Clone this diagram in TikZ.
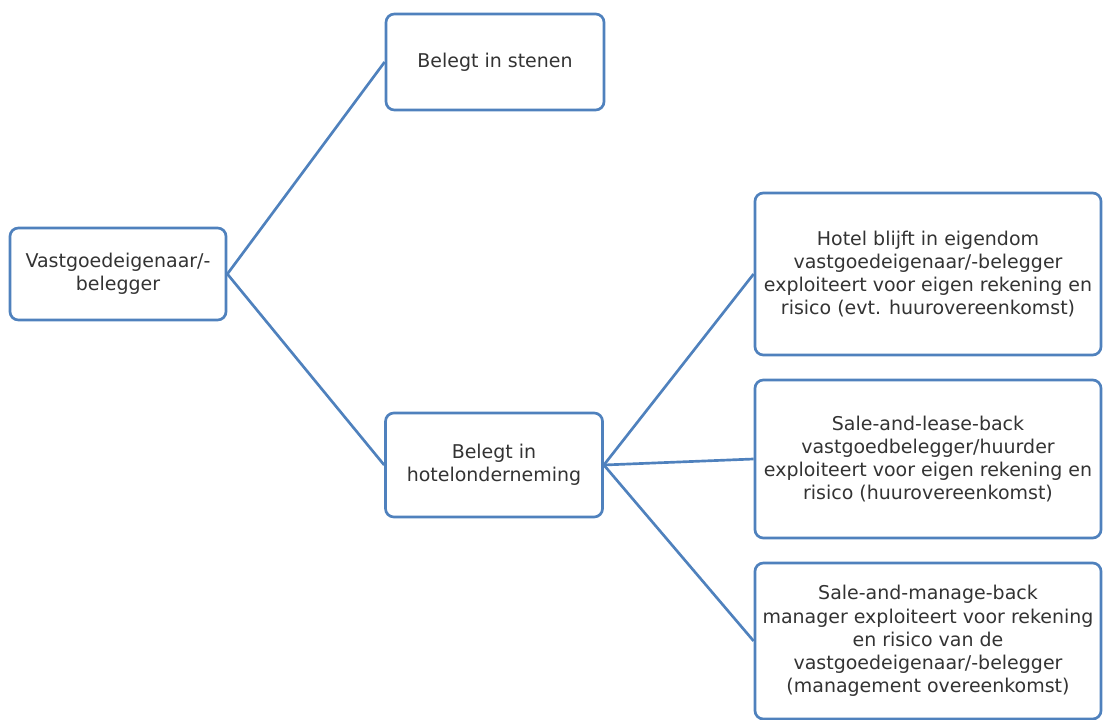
\documentclass[tikz,border=0pt]{standalone}
\usepackage{fontspec}
\setmainfont{DejaVu Sans}
\definecolor{boxblue}{HTML}{4F81BD}
\definecolor{txtgray}{HTML}{333333}
\tikzset{
  box/.style={draw=boxblue,line width=1.9pt,rounded corners=6pt,fill=white,
    align=center,text=txtgray,font=\fontsize{13.5}{16.5}\selectfont,inner sep=1pt},
  link/.style={draw=boxblue,line width=1.9pt}
}

\begin{document}
\begin{tikzpicture}[x=0.025cm,y=-0.025cm]
  \useasboundingbox (0,0) rectangle (1103,720);
  % Left-hand side part of the Figure
  \node[box,minimum width=5.4cm,minimum height=2.3cm]   (V) at (118,274) {Vastgoedeigenaar/-\\belegger};
  \node[box,minimum width=5.45cm,minimum height=2.4cm]  (S) at (495,62)  {Belegt in stenen};
  \node[box,minimum width=5.425cm,minimum height=2.6cm] (H) at (494,465) {Belegt in\\hotelonderneming};
  % Right-hand side part
  \node[box,minimum width=8.65cm,minimum height=4.05cm] (R1) at (928,274) {Hotel blijft in eigendom\\vastgoedeigenaar/-belegger\\exploiteert voor eigen rekening en\\risico (evt. huurovereenkomst)};
  \node[box,minimum width=8.65cm,minimum height=3.95cm] (R2) at (928,459) {Sale-and-lease-back\\vastgoedbelegger/huurder\\exploiteert voor eigen rekening en\\risico (huurovereenkomst)};
  \node[box,minimum width=8.65cm,minimum height=3.9cm] (R3) at (928,641) {Sale-and-manage-back\\manager exploiteert voor rekening\\en risico van de\\vastgoedeigenaar/-belegger\\(management overeenkomst)};
  % Connectors
  \draw[link] (V.east) -- (S.west);
  \draw[link] (V.east) -- (H.west);
  \draw[link] (H.east) -- (R1.west);
  \draw[link] (H.east) -- (R2.west);
  \draw[link] (H.east) -- (R3.west);
\end{tikzpicture}
\end{document}
